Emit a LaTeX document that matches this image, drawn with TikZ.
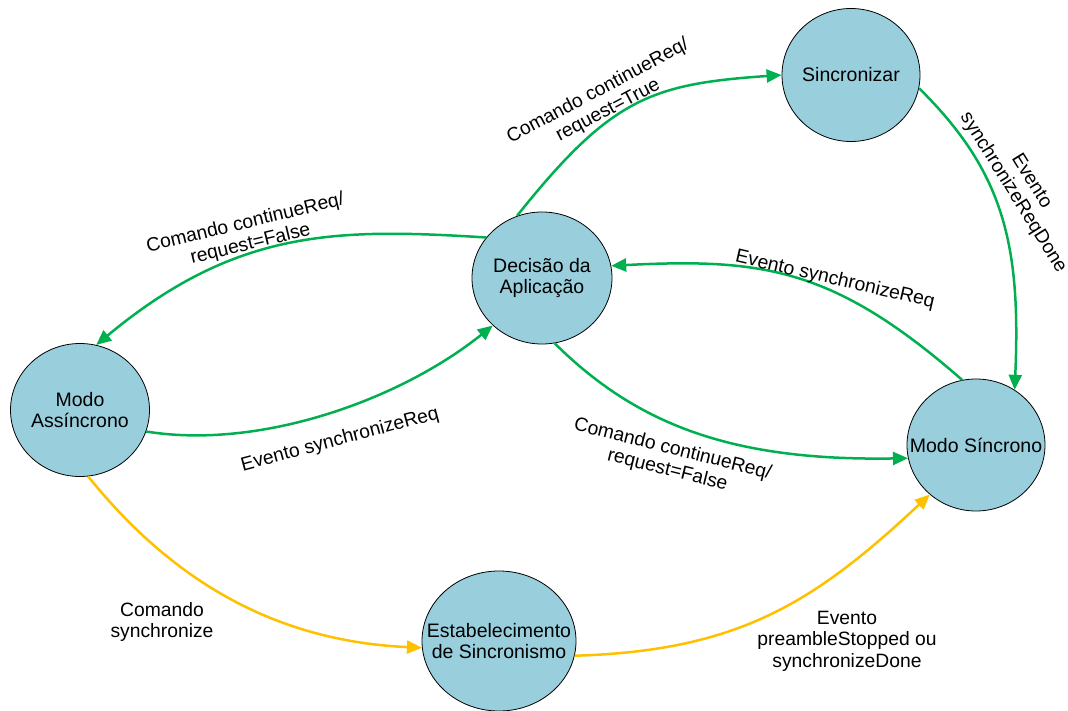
\documentclass[tikz,border=0pt]{standalone}
\usepackage{fontspec}
\setmainfont{Liberation Sans}
\usetikzlibrary{shapes.geometric,arrows.meta}
\definecolor{statefill}{RGB}{153,207,221}
\definecolor{trgreen}{RGB}{0,176,80}
\definecolor{tryellow}{RGB}{255,192,0}
\begin{document}
\begin{tikzpicture}[x=1pt,y=-1pt,
  state/.style={ellipse, draw=black, line width=0.8pt, fill=statefill, inner sep=0pt},
  statetext/.style={align=center, inner sep=0pt, font=\fontsize{19.5}{21.5}\selectfont},
  trans/.style={line width=2.5pt, -{Triangle[length=15pt,width=13pt]}},
  gtrans/.style={trans, draw=trgreen},
  ytrans/.style={trans, draw=tryellow},
  lbl/.style={align=center, inner sep=0pt, font=\fontsize{19.3}{21.5}\selectfont}
]
\useasboundingbox (0,0) rectangle (1068,711);

% states
\node[state, minimum width=138pt, minimum height=133pt,
      label={[statetext]center:Sincronizar}] (sinc) at (851,75) {};
\node[state, minimum width=140pt, minimum height=132pt,
      label={[statetext]center:Decisão da\\Aplicação}] (dec) at (542,278) {};
\node[state, minimum width=139pt, minimum height=133pt,
      label={[statetext]center:Modo\\Assíncrono}] (async) at (80,410) {};
\node[state, minimum width=138pt, minimum height=132pt,
      label={[statetext]center:Modo Síncrono}] (sync) at (976,445) {};
\node[state, minimum width=154pt, minimum height=140pt,
      label={[statetext]center:Estabelecimento\\de Sincronismo}] (est) at (499,641) {};

% transitions
\draw[gtrans] (dec.112) .. controls (611,98) and (651,84) .. (sinc.180);
\draw[gtrans] (sinc.-11) .. controls (1004,172) and (1021,245) .. (sync.55);
\draw[gtrans] (sync.102) .. controls (834,268) and (763,258) .. (dec.10);
\draw[gtrans] (dec.144) .. controls (335,228) and (236,229) .. (async.76);
\draw[gtrans] (async.-18) .. controls (260,450) and (400,400) .. (dec.224);
\draw[gtrans] (dec.281) .. controls (639,427) and (736,461) .. (sync.191);
\draw[ytrans] (async.-83) .. controls (170,578) and (272,641) .. (est.185);
\draw[ytrans] (est.-11) .. controls (738,651) and (814,603) .. (sync.227);

% transition labels
\node[lbl, rotate=28] (l1) at (603,101) {Comando continueReq/\\request=True};
\node[lbl, rotate=-58] (l2) at (1022,187) {Evento\\synchronizeReqDone};
\node[lbl, rotate=-13] (l3) at (835,280) {Evento synchronizeReq};
\node[lbl, rotate=13.6] (l4) at (248,234) {Comando continueReq/\\request=False};
\node[lbl, rotate=15] (l5) at (340,440) {Evento synchronizeReq};
\node[lbl, rotate=-14] (l6) at (670,460) {Comando continueReq/\\request=False};
\node[lbl] (l7) at (162,622) {Comando\\synchronize};
\node[lbl] (l8) at (847,641) {Evento\\preambleStopped ou\\synchronizeDone};
\end{tikzpicture}
\end{document}
